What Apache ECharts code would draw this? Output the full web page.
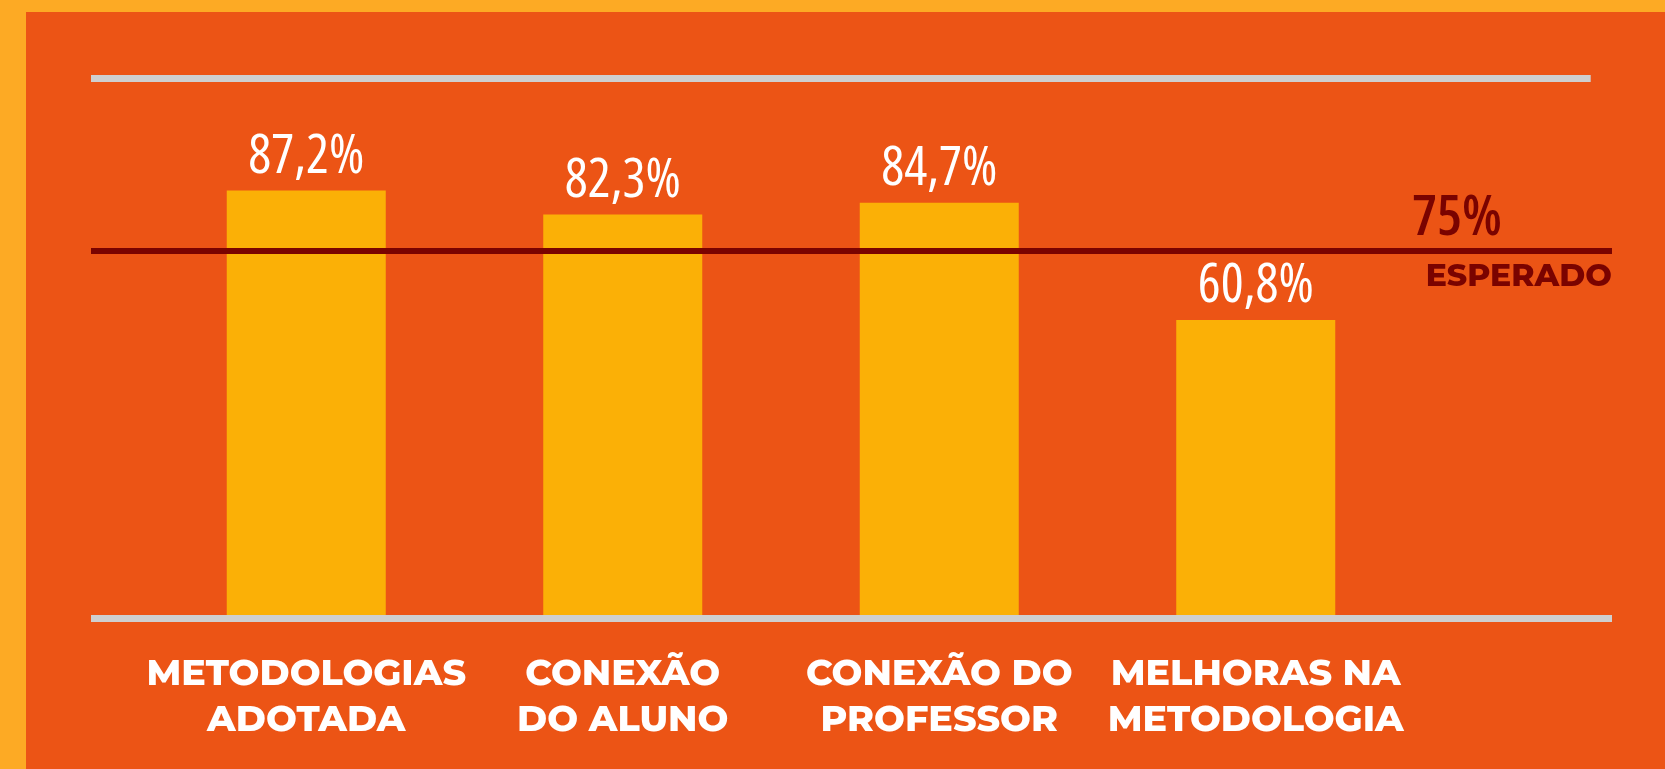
<!DOCTYPE html>
<html>
<head>
<meta charset="utf-8">
<title>Resultados</title>
<script src="https://cdn.jsdelivr.net/npm/echarts@6/dist/echarts.min.js"></script>
<style>
  html, body { margin: 0; padding: 0; background: #EC5415; }
  #chart { width: 1665px; height: 769px; }
</style>
</head>
<body>
<div id="chart"></div>
<script>
// dados
const categories = ['METODOLOGIAS\nADOTADA', 'CONEXÃO\nDO ALUNO', 'CONEXÃO DO\nPROFESSOR', 'MELHORAS NA\nMETODOLOGIA'];
const values = [87.2, 82.3, 84.7, 60.8];
const expectedValue = 75;
const expectedText = 'ESPERADO';
const scaleMax = 110;

const ORANGE = '#EC5415';
const FRAME = '#FDAA24';
const BAR = '#FBB006';
const GRAY = '#CFCFCF';
const DARK_RED = '#7A0300';
// "condensed" vai para a string de fonte do canvas (font-stretch)
const NARROW = '"Open Sans", Roboto, sans-serif';
const BOLD = 'Montserrat, "Open Sans", Inter, sans-serif';

const fmt = v => String(v).replace('.', ',') + '%';

const chart = echarts.init(document.getElementById('chart'));

// grid 0 = barras, grid 1 = linhas de referência (mais largas)
const gridTop = 78.5;
const gridBottom = 150.5;

chart.setOption({
  backgroundColor: ORANGE,
  animation: false,
  graphic: [
    { type: 'rect', left: 0, top: 0, shape: { width: 26, height: 769 }, style: { fill: FRAME } },
    { type: 'rect', left: 0, top: 0, shape: { width: 1665, height: 12 }, style: { fill: FRAME } },
  ],
  grid: [
    { left: 148, width: 1266, top: gridTop, bottom: gridBottom },
    { left: 91, width: 1521, top: gridTop, bottom: gridBottom },
  ],
  xAxis: [
    {
      type: 'category',
      gridIndex: 0,
      data: categories,
      axisLine: { show: false },
      axisTick: { show: false },
      axisLabel: {
        interval: 0,
        color: '#fff',
        fontFamily: BOLD,
        fontWeight: 800,
        fontSize: 36.5,
        lineHeight: 46,
        margin: 33,
      },
    },
    {
      type: 'value',
      gridIndex: 1,
      min: 0,
      max: 100,
      z: 5,
      axisLine: { show: true, onZero: false, lineStyle: { color: GRAY, width: 7, cap: 'butt' } },
      axisTick: { show: false },
      axisLabel: { show: false },
      splitLine: { show: false },
    },
  ],
  yAxis: [
    { type: 'value', gridIndex: 0, min: 0, max: scaleMax, show: false },
    { type: 'value', gridIndex: 1, min: 0, max: scaleMax, show: false },
  ],
  series: [
    {
      type: 'bar',
      xAxisIndex: 0,
      yAxisIndex: 0,
      data: values,
      barWidth: 159,
      itemStyle: { color: BAR },
      label: {
        show: true,
        position: 'top',
        distance: 6,
        color: '#fff',
        fontFamily: NARROW,
        fontWeight: '500 condensed',
        fontSize: 54,
        formatter: p => fmt(p.value),
      },
    },
    {
      type: 'line',
      xAxisIndex: 1,
      yAxisIndex: 1,
      data: [],
      markLine: {
        silent: true,
        symbol: 'none',
        data: [
          [
            { coord: [0, scaleMax], lineStyle: { color: GRAY, width: 7, type: 'solid', cap: 'butt' }, label: { show: false } },
            { coord: [98.6, scaleMax] },
          ],
          {
            yAxis: expectedValue,
            lineStyle: { color: DARK_RED, width: 6, type: 'solid', cap: 'butt' },
            label: {
              show: true,
              position: 'insideEndTop',
              distance: [0, 3],
              formatter: fmt(expectedValue),
              color: DARK_RED,
              fontFamily: NARROW,
              fontWeight: '600 condensed',
              fontSize: 56,
              padding: [0, 110, 0, 0],
            },
          },
          {
            yAxis: expectedValue,
            lineStyle: { color: DARK_RED, width: 6, type: 'solid', cap: 'butt' },
            label: {
              show: true,
              position: 'insideEndBottom',
              distance: [0, 10],
              formatter: expectedText,
              color: DARK_RED,
              fontFamily: BOLD,
              fontWeight: 800,
              fontSize: 31.5,
              padding: 0,
            },
          },
        ],
      },
    },
  ],
});
</script>
</body>
</html>
